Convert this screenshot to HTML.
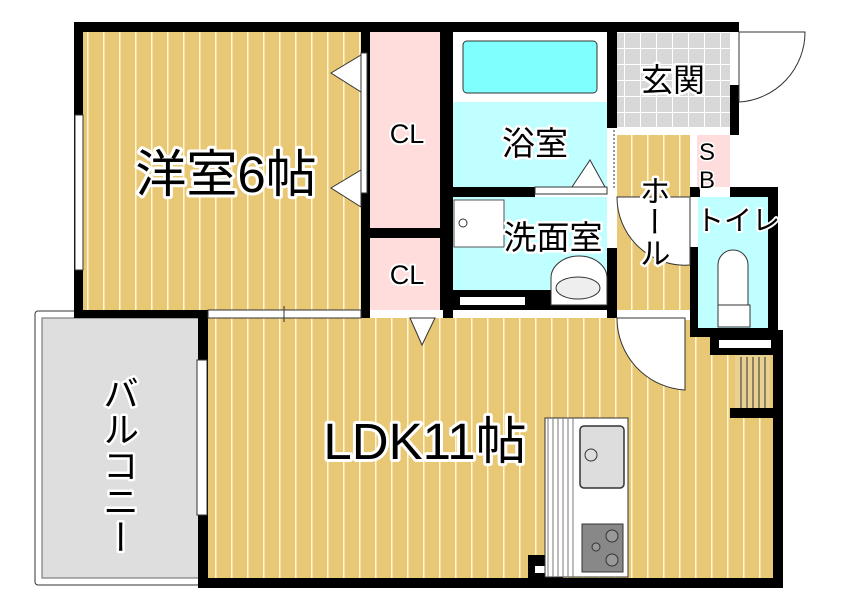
<!DOCTYPE html>
<html><head><meta charset="utf-8"><style>
html,body{margin:0;padding:0;background:#fff;}
svg{display:block}
text{font-family:"Liberation Sans","Noto Sans CJK JP",sans-serif;paint-order:stroke;stroke:#fff;stroke-linejoin:round;fill:#000}
.v{font-family:"Noto Sans CJK JP",sans-serif;writing-mode:vertical-rl;}
</style></head><body>
<svg width="851" height="610" viewBox="0 0 851 610" xmlns="http://www.w3.org/2000/svg">
<defs>
<pattern id="wood" width="16" height="20" patternUnits="userSpaceOnUse">
<rect width="16" height="20" fill="#E8C874"/><rect x="7" width="1.5" height="20" fill="#FFF6D8"/>
</pattern>
<pattern id="tile" width="16" height="16" patternUnits="userSpaceOnUse">
<rect width="16" height="16" fill="#D8D8D8"/><path d="M0 0.5H16M0.5 0V16" stroke="#fff" stroke-width="1"/>
</pattern>
</defs>
<rect x="35" y="311" width="170" height="274" rx="3" fill="#fff" stroke="#333" stroke-width="1"/>
<rect x="42" y="318" width="160" height="260" fill="#DEDEDE" stroke="#666" stroke-width="1"/>
<rect x="83" y="32" width="280" height="280" fill="url(#wood)"/>
<rect x="208" y="318" width="567" height="262" fill="url(#wood)"/>
<rect x="370" y="32" width="73" height="196" fill="#FFDDDD"/>
<rect x="370" y="238" width="73" height="72" fill="#FFDDDD"/>
<rect x="453" y="32" width="154" height="70" fill="#fff"/>
<rect x="463" y="41" width="134" height="52" rx="4" fill="#80FFFF" stroke="#333"/>
<rect x="453" y="102" width="154" height="85" fill="#C0FFFF"/>
<rect x="453" y="197" width="154" height="93" fill="#C0FFFF"/>
<rect x="617" y="32" width="113" height="95" fill="url(#tile)"/>
<rect x="617" y="127" width="73" height="183" fill="url(#wood)"/>
<rect x="617" y="127" width="113" height="8" fill="#fff"/>
<rect x="697" y="135" width="33" height="52" fill="#FFDDDD"/>
<rect x="698" y="197" width="70" height="133" fill="#C0FFFF"/>
<rect x="617" y="310" width="73" height="10" fill="#fff"/>
<rect x="735" y="355" width="35" height="57" fill="#E8D090"/>
<path d="M741 357V410M747 357V410M753 357V410M759 357V410M765 357V410" stroke="#333" stroke-width="1"/>
<g fill="#000">
<rect x="74" y="22" width="664" height="10"/>
<rect x="74" y="22" width="9" height="296"/>
<rect x="74" y="310" width="300" height="8"/>
<rect x="198" y="310" width="10" height="278"/>
<rect x="198" y="578" width="585" height="10"/>
<rect x="361" y="22" width="9" height="296"/>
<rect x="440" y="22" width="13" height="296"/>
<rect x="361" y="228" width="88" height="10"/>
<rect x="440" y="290" width="177" height="20"/>
<rect x="607" y="22" width="10" height="106"/>
<rect x="607" y="248" width="10" height="70"/>
<rect x="440" y="187" width="95" height="10"/>
<rect x="730" y="22" width="9" height="10"/>
<rect x="730" y="85" width="9" height="50"/>
<rect x="690" y="187" width="10" height="10"/>
<rect x="730" y="187" width="48" height="10"/>
<rect x="690" y="247" width="8" height="90"/>
<rect x="768" y="187" width="10" height="150"/>
<rect x="690" y="328" width="88" height="9"/>
<rect x="710" y="330" width="68" height="25"/>
<rect x="730" y="408" width="53" height="10"/>
<rect x="773" y="330" width="10" height="258"/>
<rect x="528" y="555" width="35" height="25"/>
</g>
<rect x="460" y="297" width="65" height="8" fill="#fff"/>
<rect x="719" y="340" width="52" height="8" fill="#fff"/>
<rect x="535" y="566" width="22" height="7" fill="#fff"/>
<rect x="75" y="115" width="8" height="155" fill="#fff" stroke="#333"/>
<rect x="208" y="310" width="153" height="8" fill="#fff" stroke="#333"/>
<line x1="284" y1="306" x2="284" y2="322" stroke="#333"/>
<rect x="197" y="360" width="10" height="155" fill="#fff" stroke="#333"/>
<rect x="370" y="310" width="73" height="8" fill="#fff"/>
<rect x="361" y="53" width="6" height="140" fill="#fff" stroke="#333"/>
<polygon points="331,73 361,55 361,92" fill="#fff" stroke="#333"/>
<polygon points="331,188 361,170 361,207" fill="#fff" stroke="#333"/>
<polygon points="410,318 435,318 422,345" fill="#fff" stroke="#333"/>
<rect x="535" y="187" width="72" height="7" fill="#fff" stroke="#333"/>
<polygon points="572,187 605,187 590,160" fill="#fff" stroke="#333"/>
<line x1="614" y1="130" x2="614" y2="190" stroke="#333" stroke-dasharray="2,2"/>
<path d="M617 197 L690 197 L690 265 A68 68 0 0 1 617 197Z" fill="#fff" stroke="#333"/>
<path d="M617 318 L685 318 L685 390 A72 72 0 0 1 617 318Z" fill="#fff" stroke="#333"/>
<path d="M739 32 L805 32 A70 70 0 0 1 739 102Z" fill="#fff" stroke="#333"/>
<rect x="454" y="200" width="50" height="47" fill="#fff" stroke="#555"/>
<circle cx="463" cy="223" r="4" fill="#fff" stroke="#333"/>
<path d="M551 305 V278 A28 22 0 0 1 607 278 V305Z" fill="#fff" stroke="#333"/>
<ellipse cx="578" cy="288" rx="22" ry="11" fill="#eee" stroke="#333"/>
<path d="M718 310 V265 A15 15 0 0 1 748 265 V310Z" fill="#fff" stroke="#333"/>
<rect x="718" y="305" width="32" height="22" fill="#fff" stroke="#333"/>
<rect x="545" y="418" width="83" height="159" fill="#fff" stroke="#333"/>
<path d="M548 418 V577 M553 418 V577 M558 418 V577 M563 418 V577 M568 418 V577 M573 418 V577" stroke="#777"/>
<rect x="580" y="426" width="44" height="62" rx="4" fill="#DDD" stroke="#333" stroke-width="1.5"/>
<circle cx="591" cy="455" r="6" fill="#DDD" stroke="#333"/>
<rect x="582" y="524" width="41" height="48" fill="#888" stroke="#333"/>
<circle cx="612" cy="536" r="6" fill="#999" stroke="#333"/><circle cx="612" cy="560" r="6" fill="#999" stroke="#333"/><circle cx="596" cy="547" r="4" fill="#999" stroke="#333"/>
<text x="226" y="192" font-size="51" stroke-width="6" text-anchor="middle">洋室6帖</text>
<text x="425" y="459" font-size="51" stroke-width="6" text-anchor="middle">LDK11帖</text>
<text x="407" y="143" font-size="27" stroke-width="4" text-anchor="middle">CL</text>
<text x="407" y="284" font-size="27" stroke-width="4" text-anchor="middle">CL</text>
<text x="535" y="155" font-size="33" stroke-width="5" text-anchor="middle">浴室</text>
<text x="553" y="249" font-size="33" stroke-width="5" text-anchor="middle">洗面室</text>
<text x="673" y="91" font-size="32" stroke-width="5" text-anchor="middle">玄関</text>
<text x="738" y="230" font-size="28" stroke-width="4" text-anchor="middle">トイレ</text>
<text x="707" y="160" font-size="24" stroke-width="3" text-anchor="middle">S</text>
<text x="707" y="188" font-size="24" stroke-width="3" text-anchor="middle">B</text>
<text class="v" x="655" y="175" font-size="31" stroke-width="5">ホール</text>
<text class="v" x="121" y="375" font-size="36" stroke-width="5">バルコニー</text>
</svg>
</body></html>
